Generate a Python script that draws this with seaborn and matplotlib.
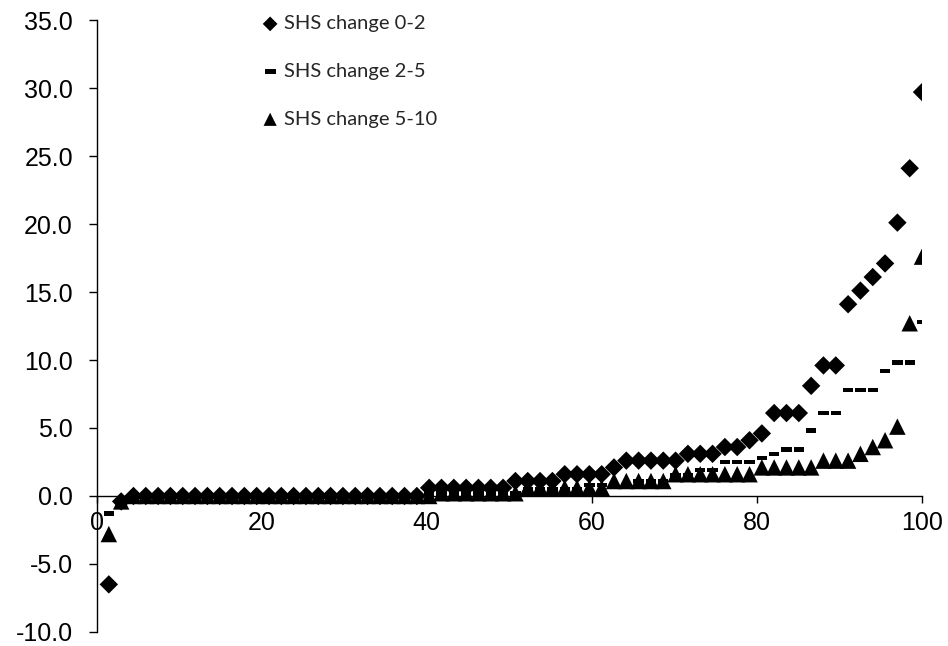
import numpy as np
import pandas as pd
import seaborn as sns
import matplotlib.pyplot as plt
import matplotlib.ticker as ticker

# valores ordenados de cada grupo (percentil no eixo x)
shs_0_2 = [-6.5, -0.4,
           0.0, 0.0, 0.0, 0.0, 0.0, 0.0, 0.0, 0.0, 0.0, 0.0, 0.0, 0.0,
           0.0, 0.0, 0.0, 0.0, 0.0, 0.0, 0.0, 0.0, 0.0, 0.0, 0.0, 0.0,
           0.6, 0.6, 0.6, 0.6, 0.6, 0.6, 0.6,
           1.1, 1.1, 1.1, 1.1,
           1.6, 1.6, 1.6, 1.6,
           2.1,
           2.6, 2.6, 2.6, 2.6, 2.6,
           3.1, 3.1, 3.1,
           3.6, 3.6,
           4.1, 4.6,
           6.1, 6.1, 6.1,
           8.1, 9.6, 9.6,
           14.1, 15.1, 16.1, 17.1, 20.1, 24.1, 29.7]

shs_2_5 = [-1.3, -0.4,
           0.0, 0.0, 0.0, 0.0, 0.0, 0.0, 0.0, 0.0, 0.0, 0.0, 0.0, 0.0,
           0.0, 0.0, 0.0, 0.0, 0.0, 0.0, 0.0, 0.0, 0.0, 0.0, 0.0, 0.0,
           0.2, 0.2, 0.2, 0.2, 0.2, 0.2, 0.2, 0.2,
           0.5, 0.5, 0.5, 0.5, 0.5,
           0.8, 0.8, 0.8, 0.8,
           1.1, 1.1, 1.1,
           1.5, 1.5,
           1.9, 1.9,
           2.5, 2.5, 2.5,
           2.8, 3.1, 3.4, 3.4,
           4.8, 6.1, 6.1,
           7.8, 7.8, 7.8,
           9.2, 9.8, 9.8, 12.8]

shs_5_10 = [-2.8, -0.4,
            0.0, 0.0, 0.0, 0.0, 0.0, 0.0, 0.0, 0.0, 0.0, 0.0, 0.0, 0.0,
            0.0, 0.0, 0.0, 0.0, 0.0, 0.0, 0.0, 0.0, 0.0, 0.0, 0.0, 0.0, 0.0,
            0.2, 0.2, 0.2, 0.2, 0.2, 0.2, 0.2,
            0.6, 0.6, 0.6, 0.6, 0.6, 0.6, 0.6,
            1.1, 1.1, 1.1, 1.1, 1.1,
            1.6, 1.6, 1.6, 1.6, 1.6, 1.6, 1.6,
            2.1, 2.1, 2.1, 2.1, 2.1,
            2.6, 2.6, 2.6,
            3.1, 3.6, 4.1, 5.1,
            12.7, 17.6]

labels = ["SHS change 0-2", "SHS change 2-5", "SHS change 5-10"]
x_ticks = [0, 20, 40, 60, 80, 100]
y_ticks = [-10, -5, 0, 5, 10, 15, 20, 25, 30, 35]

frames = []
for lab, vals in zip(labels, [shs_0_2, shs_2_5, shs_5_10]):
    n = len(vals)
    frames.append(pd.DataFrame({"grupo": lab,
                                "pct": np.arange(1, n + 1) / n * 100,
                                "valor": vals}))
df = pd.concat(frames, ignore_index=True)

# Criando o ambiente do gráfico
sns.set_style("white")
plt.rcParams['font.family'] = ['Liberation Sans', 'DejaVu Sans']
fig = plt.figure(figsize=(9.48, 6.46), dpi=100)
ax = fig.add_axes([0.1018, 0.0217, 0.8708, 0.9473])

dash = [(-1, -0.45), (1, -0.45), (1, 0.45), (-1, 0.45)]
estilos = {labels[0]: ("D", 88), labels[1]: (dash, 55), labels[2]: ("^", 140)}

for lab in [labels[2], labels[1], labels[0]]:
    m, s = estilos[lab]
    sns.scatterplot(x="pct", y="valor", data=df[df["grupo"] == lab],
                    marker=m, s=s, color="black", edgecolor="none",
                    linewidth=0, label=lab, ax=ax, legend=False, zorder=3)

ax.set_xlim(0, 100)
ax.set_ylim(-10, 35)
ax.set_xlabel("")
ax.set_ylabel("")
ax.xaxis.set_major_locator(ticker.FixedLocator(x_ticks))
ax.yaxis.set_major_locator(ticker.FixedLocator(y_ticks))
ax.yaxis.set_major_formatter(ticker.FormatStrFormatter("%.1f"))

ax.spines['top'].set_visible(False)
ax.spines['right'].set_visible(False)
ax.spines['bottom'].set_position(('data', 0))
for sp in ['left', 'bottom']:
    ax.spines[sp].set_color("black")
    ax.spines[sp].set_linewidth(1)

ax.tick_params(axis='y', direction='out', length=6, width=1, pad=11,
               labelsize=18, colors='black', left=True)
ax.tick_params(axis='x', direction='out', length=5, width=1, pad=6,
               labelsize=18, colors='black', bottom=True)

# legenda sem moldura no topo
handles, leg_labels = ax.get_legend_handles_labels()
order = [leg_labels.index(l) for l in labels]
leg = ax.legend([handles[i] for i in order], labels,
                loc='upper left', frameon=False, borderpad=0,
                bbox_to_anchor=(252 / 948, 1 - 5 / 646),
                bbox_transform=fig.transFigure,
                prop={'family': 'Lato', 'size': 14.5},
                handlelength=0.8, handletextpad=0.3, labelspacing=1.52,
                markerscale=0.8)
# o traço da legenda fica um pouco maior
leg.legend_handles[1].set_sizes([60])

fig.savefig("out.png", dpi=100)
